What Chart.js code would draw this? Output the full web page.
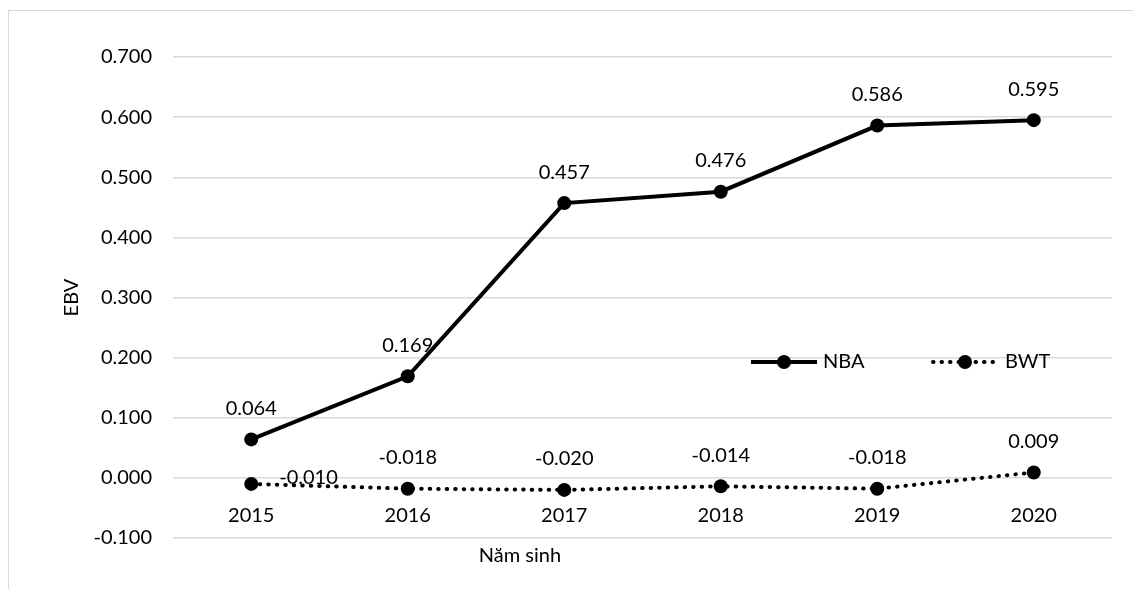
<!DOCTYPE html>
<html>
<head>
<meta charset="utf-8">
<script src="https://cdn.jsdelivr.net/npm/chart.js@4.4.0/dist/chart.umd.min.js"></script>
<style>
  body { margin: 0; background: #fff; }
  #wrap { position: relative; width: 1133px; height: 589px; }
  #frame { position: absolute; left: 8px; top: 10px; width: 1125px; height: 579px;
           border-left: 1.5px solid #d9d9d9; border-top: 1.5px solid #d9d9d9; box-sizing: border-box; }
  canvas { position: absolute; left: 0; top: 0; }
</style>
</head>
<body>
<div id="wrap">
  <div id="frame"></div>
  <canvas id="ebvChart" width="1133" height="589"></canvas>
</div>
<script>
const years = ['2015', '2016', '2017', '2018', '2019', '2020'];
const nbaValues = [0.064, 0.169, 0.457, 0.476, 0.586, 0.595];
const bwtValues = [-0.010, -0.018, -0.020, -0.014, -0.018, 0.009];
const seriesNames = ['NBA', 'BWT'];
const yTitle = 'EBV';
const xTitle = 'Năm sinh';

const FONT = 'Lato';
Chart.defaults.font.family = FONT;
Chart.defaults.font.size = 20;
Chart.defaults.color = '#000';

// value labels drawn next to each point
const valueLabels = {
  id: 'valueLabels',
  afterDatasetsDraw(chart) {
    const ctx = chart.ctx;
    ctx.save();
    ctx.font = '20px ' + FONT;
    ctx.fillStyle = '#000';
    ctx.textBaseline = 'middle';
    chart.data.datasets.forEach((ds, di) => {
      const meta = chart.getDatasetMeta(di);
      meta.data.forEach((pt, i) => {
        const txt = ds.data[i].toFixed(3);
        if (di === 1 && i === 0) {
          ctx.textAlign = 'left';
          ctx.fillText(txt, pt.x + 28, pt.y - 6);
        } else {
          ctx.textAlign = 'center';
          ctx.fillText(txt, pt.x, pt.y - 31);
        }
      });
    });
    ctx.restore();
  }
};

// legend inside the plot, line + marker samples
const insideLegend = {
  id: 'insideLegend',
  afterDraw(chart) {
    const ctx = chart.ctx;
    const y = 362;
    const items = [{x0: 751, x1: 817, tx: 823}, {x0: 933, x1: 997, tx: 1005}];
    ctx.save();
    chart.data.datasets.forEach((ds, i) => {
      const it = items[i];
      ctx.strokeStyle = ds.borderColor;
      ctx.lineWidth = ds.borderWidth;
      ctx.lineCap = ds.borderCapStyle || 'butt';
      ctx.setLineDash(ds.borderDash || []);
      ctx.beginPath();
      ctx.moveTo(it.x0, y);
      ctx.lineTo(it.x1, y);
      ctx.stroke();
      ctx.setLineDash([]);
      ctx.fillStyle = ds.pointBackgroundColor;
      ctx.beginPath();
      ctx.arc((it.x0 + it.x1) / 2, y, ds.pointRadius, 0, Math.PI * 2);
      ctx.fill();
      ctx.fillStyle = '#000';
      ctx.font = '20px ' + FONT;
      ctx.textAlign = 'left';
      ctx.textBaseline = 'middle';
      ctx.fillText(ds.label, it.tx, y);
    });
    // x axis title (Excel puts it under the plot, left of centre)
    ctx.textAlign = 'center';
    ctx.fillText(xTitle, 520, 556);
    ctx.restore();
  }
};

const data = {
  labels: years,
  datasets: [{
    label: seriesNames[0],
    data: nbaValues,
    borderColor: '#000',
    borderWidth: 4,
    pointRadius: 7,
    pointBackgroundColor: '#000',
    pointBorderWidth: 0,
    tension: 0
  }, {
    label: seriesNames[1],
    data: bwtValues,
    borderColor: '#000',
    borderWidth: 4,
    borderDash: [0.5, 8],
    borderCapStyle: 'round',
    pointRadius: 7,
    pointBackgroundColor: '#000',
    pointBorderWidth: 0,
    tension: 0
  }]
};

const config = {
  type: 'line',
  data: data,
  options: {
    responsive: false,
    animation: false,
    layout: { padding: { left: 60, top: 57, right: 21, bottom: 51 } },
    plugins: {
      legend: { display: false },
      tooltip: { enabled: false }
    },
    scales: {
      x: {
        type: 'category',
        position: { y: 0 },
        offset: true,
        grid: { display: false },
        border: { display: false },
        ticks: { padding: 18, color: '#000', font: { size: 20 } }
      },
      y: {
        min: -0.1,
        max: 0.7,
        afterFit(scale) { scale.width = 113; },
        ticks: {
          stepSize: 0.1,
          padding: 21,
          color: '#000',
          callback: (v) => (Math.abs(v) < 1e-9 ? 0 : v).toFixed(3)
        },
        grid: { color: '#d9d9d9', lineWidth: 1.5, drawTicks: false },
        border: { display: false },
        title: { display: true, text: yTitle, padding: 0, color: '#000', font: { size: 20 } }
      }
    }
  },
  plugins: [valueLabels, insideLegend]
};

const ebvChart = new Chart(document.getElementById('ebvChart'), config);
</script>
</body>
</html>
